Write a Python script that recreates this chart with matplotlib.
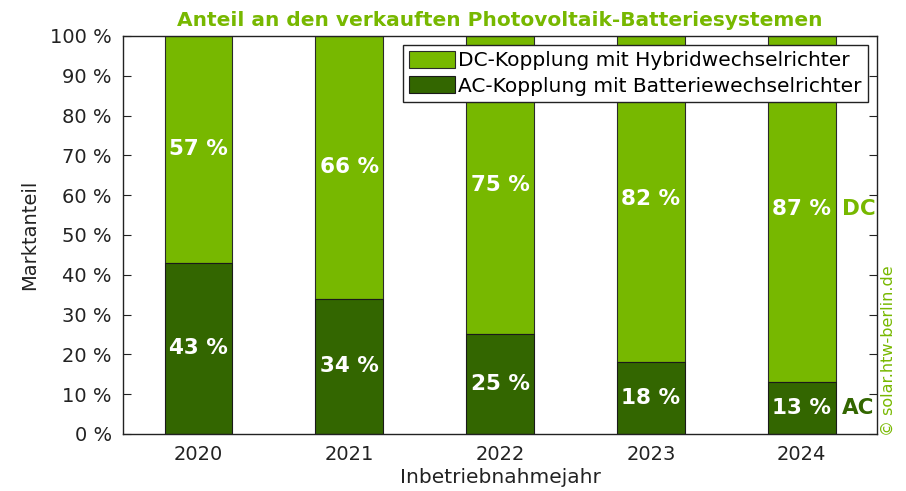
import numpy as np
import matplotlib.pyplot as plt

# data
years = ["2020", "2021", "2022", "2023", "2024"]
ac_share = [43, 34, 25, 18, 13]
dc_share = [57, 66, 75, 82, 87]

DC_COLOR = "#77b800"
AC_COLOR = "#336600"

plt.rcParams["font.family"] = "DejaVu Sans"

fig = plt.figure(figsize=(9.06, 4.91), dpi=100)
ax = fig.add_axes([0.1358, 0.1161, 0.8322, 0.8106])

x = np.arange(len(years))
w = 0.45
ac = np.array(ac_share)
dc = np.array(dc_share)

ax.bar(x, dc, w, bottom=ac, color=DC_COLOR, edgecolor="#2a2a2a", linewidth=0.8,
       label="DC-Kopplung mit Hybridwechselrichter")
ax.bar(x, ac, w, color=AC_COLOR, edgecolor="#1a1a1a", linewidth=0.8,
       label="AC-Kopplung mit Batteriewechselrichter")

for xi, a, d in zip(x, ac, dc):
    ax.text(xi, a + d / 2, f"{d} %", ha="center", va="center", color="white",
            fontsize=15.5, fontweight="bold")
    ax.text(xi, a / 2, f"{a} %", ha="center", va="center", color="white",
            fontsize=15.5, fontweight="bold")

# side labels at last bar
ax.text(x[-1] + 0.265, ac[-1] + dc[-1] / 2, "DC", ha="left", va="center",
        color=DC_COLOR, fontsize=15.5, fontweight="bold")
ax.text(x[-1] + 0.265, ac[-1] / 2, "AC", ha="left", va="center",
        color=AC_COLOR, fontsize=15.5, fontweight="bold")

ax.set_xlim(-0.5, len(years) - 0.5)
ax.set_ylim(0, 100)
ax.set_yticks(np.arange(0, 101, 10))
ax.set_yticklabels([f"{v} %" for v in range(0, 101, 10)])
ax.set_xticks(x)
ax.set_xticklabels(years)
ax.tick_params(axis="y", direction="in", length=6, labelsize=14, colors="#222222",
               right=True, pad=8)
ax.tick_params(axis="x", length=0, labelsize=14, colors="#222222", pad=8)
for s in ax.spines.values():
    s.set_color("#222222")
    s.set_linewidth(1.0)

ax.set_xlabel("Inbetriebnahmejahr", fontsize=14.5, color="#222222", labelpad=3)
ax.set_ylabel("Marktanteil", fontsize=14, color="#222222", labelpad=8)
ax.set_title("Anteil an den verkauften Photovoltaik-Batteriesystemen",
             fontsize=14.5, fontweight="bold", color=DC_COLOR, pad=7)

leg = ax.legend(loc="upper right", fontsize=14.5, fancybox=False, framealpha=1,
                edgecolor="#222222", borderpad=0.3, handlelength=2.3,
                handleheight=0.9, handletextpad=0.15, labelspacing=0.3,
                borderaxespad=0.45)
leg.get_frame().set_linewidth(1.0)

fig.text(0.98, 0.113, "© solar.htw-berlin.de", rotation=90, ha="center",
         va="bottom", color=DC_COLOR, fontsize=11.5)

fig.savefig("out.png", dpi=100)
